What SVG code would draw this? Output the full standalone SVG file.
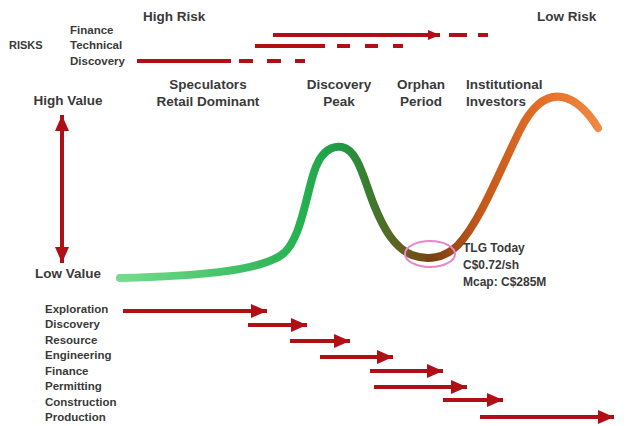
<svg xmlns="http://www.w3.org/2000/svg" width="633" height="426" viewBox="0 0 633 426">
<defs>
<style>
text{font-family:"Liberation Sans",Arial,sans-serif;font-weight:bold;fill:#3a3a3a}
.t13{font-size:13.5px}
.t12{font-size:12px}
.t11{font-size:11px}
.t10{font-size:11.5px}
.arr{stroke:#b00f16;stroke-width:4;fill:none}
.dash{stroke:#b00f16;stroke-width:4;fill:none}
</style>
<marker id="ah" markerUnits="userSpaceOnUse" markerWidth="16" markerHeight="14" refX="16" refY="7" orient="auto">
<path d="M0,0 L16,7 L0,14 z" fill="#b00f16"/>
</marker>
<marker id="ahs" markerUnits="userSpaceOnUse" markerWidth="12" markerHeight="10" refX="12" refY="5" orient="auto">
<path d="M0,0 L12,5 L0,10 z" fill="#b00f16"/>
</marker>
<marker id="ahv" markerUnits="userSpaceOnUse" markerWidth="16" markerHeight="14" refX="16" refY="7" orient="auto-start-reverse">
<path d="M0,0 L16,7 L0,14 z" fill="#b00f16"/>
</marker>
<linearGradient id="cg" gradientUnits="userSpaceOnUse" x1="120" y1="0" x2="600" y2="0">
<stop offset="0" stop-color="#74dc8c"/>
<stop offset="0.38" stop-color="#25b150"/>
<stop offset="0.46" stop-color="#1f9a45"/>
<stop offset="0.52" stop-color="#3d7a2e"/>
<stop offset="0.6" stop-color="#6a5a1c"/>
<stop offset="0.65" stop-color="#7a4012"/>
<stop offset="0.75" stop-color="#c2581a"/>
<stop offset="0.88" stop-color="#e36f28"/>
<stop offset="1" stop-color="#ef8a45"/>
</linearGradient>
</defs>
<rect width="633" height="426" fill="#ffffff"/>

<g id="risk-labels">
<text class="t13" x="143" y="21">High Risk</text>
<text class="t13" x="537" y="21">Low Risk</text>
<text class="t11" x="9" y="49">RISKS</text>
<text class="t10" x="70" y="34">Finance</text>
<text class="t10" x="70" y="49">Technical</text>
<text class="t10" x="70" y="65">Discovery</text>
</g>

<g id="phase-labels" text-anchor="middle">
<text class="t13" x="208" y="89">Speculators</text>
<text class="t13" x="208" y="106">Retail Dominant</text>
<text class="t13" x="339" y="89">Discovery</text>
<text class="t13" x="339" y="106">Peak</text>
<text class="t13" x="421" y="89">Orphan</text>
<text class="t13" x="421" y="106">Period</text>
<text class="t13" x="466" y="89" text-anchor="start">Institutional</text>
<text class="t13" x="466" y="106" text-anchor="start">Investors</text>
</g>

<g id="value-axis">
<text class="t13" x="68" y="105" text-anchor="middle">High Value</text>
<text class="t13" x="68" y="278" text-anchor="middle">Low Value</text>
</g>

<g id="value-curve">
<path d="M120,278 C200,276 255,271 280,256 C300,244 305,200 314,172 C322,148 334,146 342,147 C358,150 364,180 374,205 C384,230 395,248 412,255 C428,261 445,258 458,245 C480,222 500,170 520,130 C535,100 550,95 562,97 C578,100 590,115 598,128" fill="none" stroke="url(#cg)" stroke-width="8" stroke-linecap="round"/>
<ellipse cx="430" cy="254" rx="25" ry="13" fill="none" stroke="#e985cc" stroke-width="2"/>
</g>

<g id="tlg-label">
<text class="t12" x="463" y="252">TLG Today</text>
<text class="t12" x="463" y="269">C$0.72/sh</text>
<text class="t12" x="463" y="286">Mcap: C$285M</text>
</g>

<g id="stage-labels">
<text class="t10" x="45" y="313">Exploration</text>
<text class="t10" x="45" y="328">Discovery</text>
<text class="t10" x="45" y="344">Resource</text>
<text class="t10" x="45" y="359">Engineering</text>
<text class="t10" x="45" y="375">Finance</text>
<text class="t10" x="45" y="390">Permitting</text>
<text class="t10" x="45" y="406">Construction</text>
<text class="t10" x="45" y="421">Production</text>
</g>

<g id="connectors">
<line class="arr" x1="62" y1="115" x2="62" y2="263" marker-start="url(#ahv)" marker-end="url(#ahv)"/>
<line class="arr" x1="273" y1="35" x2="440" y2="35" marker-end="url(#ahs)"/>
<line class="dash" x1="449" y1="35" x2="467" y2="35"/>
<line class="dash" x1="478" y1="35" x2="488" y2="35"/>
<line class="dash" x1="255" y1="46" x2="325" y2="46"/>
<line class="dash" x1="337" y1="46" x2="350" y2="46"/>
<line class="dash" x1="365" y1="46" x2="378" y2="46"/>
<line class="dash" x1="393" y1="46" x2="403" y2="46"/>
<line class="dash" x1="137" y1="61" x2="231" y2="61"/>
<line class="dash" x1="239" y1="61" x2="253" y2="61"/>
<line class="dash" x1="267" y1="61" x2="281" y2="61"/>
<line class="dash" x1="295" y1="61" x2="305" y2="61"/>
<line class="arr" x1="123" y1="311" x2="267" y2="311" marker-end="url(#ah)"/>
<line class="arr" x1="248" y1="325" x2="307" y2="325" marker-end="url(#ah)"/>
<line class="arr" x1="290" y1="341" x2="350" y2="341" marker-end="url(#ah)"/>
<line class="arr" x1="320" y1="357" x2="393" y2="357" marker-end="url(#ah)"/>
<line class="arr" x1="370" y1="371" x2="443" y2="371" marker-end="url(#ah)"/>
<line class="arr" x1="374" y1="387" x2="467" y2="387" marker-end="url(#ah)"/>
<line class="arr" x1="443" y1="400" x2="503" y2="400" marker-end="url(#ah)"/>
<line class="arr" x1="480" y1="417" x2="614" y2="417" marker-end="url(#ah)"/>
</g>
</svg>
